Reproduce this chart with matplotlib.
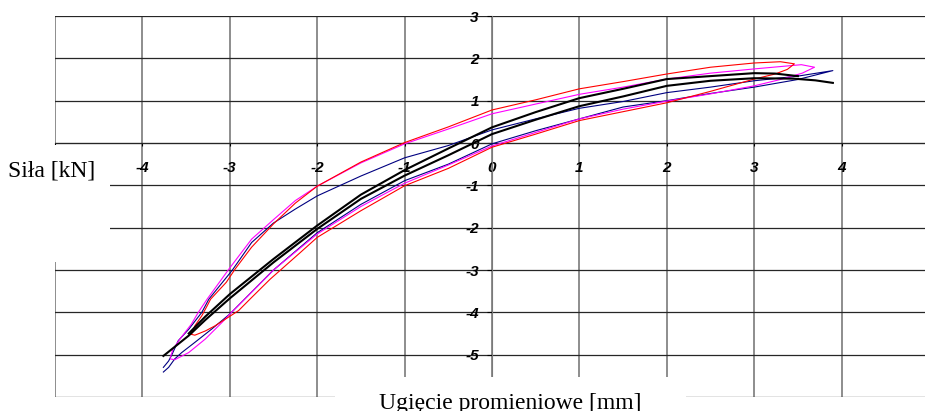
import matplotlib
matplotlib.use('Agg')
import matplotlib.pyplot as plt
from matplotlib.patches import Rectangle

# pętle histerezy: obciążanie (load) i odciążanie (unload), ugięcie [mm] / siła [kN]
red_load_x = [-3.44, -3.40, -3.28, -3.17, -3.02, -2.90, -2.77, -2.54, -2.20, -2.00, -1.50, -1.00,
              -0.50, 0.00, 0.50, 1.00, 1.50, 2.00, 2.50, 3.00, 3.24, 3.38, 3.46]
red_load_y = [-4.52, -4.54, -4.44, -4.32, -4.12, -3.96, -3.69, -3.22, -2.60, -2.23, -1.60, -1.01,
              -0.60, -0.10, 0.21, 0.53, 0.74, 0.95, 1.22, 1.51, 1.63, 1.74, 1.87]
red_unload_x = [3.46, 3.30, 3.00, 2.50, 2.00, 1.50, 1.00, 0.50, 0.00, -0.50, -1.00, -1.50,
                -2.00, -2.25, -2.50, -2.75, -2.94, -3.04, -3.22, -3.26, -3.32, -3.40, -3.44]
red_unload_y = [1.87, 1.92, 1.89, 1.79, 1.63, 1.45, 1.28, 1.02, 0.78, 0.38, 0.01, -0.45,
                -1.02, -1.42, -1.91, -2.46, -2.98, -3.29, -3.69, -3.85, -4.08, -4.32, -4.52]

magenta_load_x = [-3.68, -3.63, -3.47, -3.28, -3.09, -2.98, -2.50, -2.00, -1.50, -1.00, -0.50,
                  0.00, 0.50, 1.00, 1.50, 2.00, 2.50, 3.00, 3.30, 3.55, 3.69]
magenta_load_y = [-5.10, -5.12, -4.95, -4.63, -4.24, -4.00, -3.00, -2.15, -1.50, -0.95, -0.52,
                  -0.07, 0.25, 0.57, 0.80, 0.99, 1.16, 1.35, 1.50, 1.65, 1.79]
magenta_unload_x = [3.69, 3.54, 3.00, 2.50, 2.00, 1.50, 1.00, 0.50, 0.00, -0.50, -1.00, -1.50,
                    -2.00, -2.25, -2.50, -2.75, -3.00, -3.26, -3.36, -3.44, -3.57, -3.65, -3.68]
magenta_unload_y = [1.79, 1.85, 1.75, 1.65, 1.51, 1.32, 1.15, 0.92, 0.69, 0.33, -0.02, -0.47,
                    -1.02, -1.36, -1.81, -2.27, -2.95, -3.69, -4.00, -4.28, -4.63, -4.87, -5.06]

blue_load_x = [-3.76, -3.70, -3.63, -3.55, -3.40, -3.21, -3.00, -2.50, -2.00, -1.50, -1.00,
               -0.50, 0.00, 0.50, 1.00, 1.50, 2.00, 2.50, 3.00, 3.50, 3.90]
blue_load_y = [-5.41, -5.30, -5.10, -4.95, -4.71, -4.40, -4.04, -3.00, -2.12, -1.45, -0.89,
               -0.50, -0.02, 0.29, 0.57, 0.85, 1.00, 1.17, 1.32, 1.50, 1.71]
blue_unload_x = [3.90, 3.50, 3.00, 2.50, 2.00, 1.50, 1.00, 0.50, 0.00, -0.50, -1.00, -1.50,
                 -2.00, -2.25, -2.50, -2.75, -2.97, -3.24, -3.32, -3.47, -3.59, -3.66, -3.70, -3.76]
blue_unload_y = [1.71, 1.58, 1.47, 1.32, 1.19, 0.98, 0.82, 0.57, 0.31, -0.06, -0.35, -0.78,
                 -1.25, -1.56, -1.89, -2.35, -3.00, -3.69, -4.00, -4.40, -4.67, -4.99, -5.15, -5.30]

black_load_x = [-3.76, -3.47, -3.28, -3.00, -2.50, -2.00, -1.50, -1.00, -0.50, 0.00, 0.50,
                1.00, 1.50, 2.00, 2.50, 3.00, 3.45, 3.70, 3.90]
black_load_y = [-5.03, -4.55, -4.18, -3.67, -2.82, -2.03, -1.32, -0.77, -0.29, 0.21, 0.55,
                0.87, 1.10, 1.35, 1.47, 1.53, 1.52, 1.48, 1.42]
black_unload_x = [3.50, 3.24, 3.00, 2.50, 2.00, 1.50, 1.00, 0.50, 0.00, -0.50, -1.00, -1.50,
                  -2.00, -2.50, -3.00, -3.28, -3.47]
black_unload_y = [1.58, 1.64, 1.65, 1.58, 1.51, 1.28, 1.06, 0.73, 0.37, -0.13, -0.64, -1.22,
                  -1.95, -2.74, -3.57, -4.10, -4.50]

x_ticks = list(range(-5, 6))
y_ticks = list(range(-6, 4))
# -5 i -6 leżą pod opisami osi, więc bez etykiet
x_labels = ['' if v == -5 else str(v) for v in x_ticks]
y_labels = ['' if v == -6 else str(v) for v in y_ticks]

W, H = 925, 411
fig = plt.figure(figsize=(W / 100, H / 100), dpi=100)
# osie wychodzą lekko poza prawą krawędź (jak w oryginale)
ax = fig.add_axes([55 / W, 1 - 397 / H, 874 / W, 381 / H])
ax.set_xlim(-5, 5)
ax.set_ylim(-6, 3)

for x in x_ticks:
    ax.axvline(x, color='#7a7a7a', lw=1.2, zorder=1)
for y in y_ticks:
    ax.axhline(y, color='#262626', lw=0.9, zorder=1)

ax.plot(blue_load_x + blue_unload_x, blue_load_y + blue_unload_y, color='#000080', lw=0.8, zorder=3)
ax.plot(magenta_load_x + magenta_unload_x, magenta_load_y + magenta_unload_y, color='#ff00ff', lw=0.8, zorder=3)
ax.plot(red_load_x + red_unload_x, red_load_y + red_unload_y, color='#ff0000', lw=0.8, zorder=3)
ax.plot(black_load_x, black_load_y, color='black', lw=1.5, zorder=4)
ax.plot(black_unload_x, black_unload_y, color='black', lw=1.5, zorder=4)

for s in ['top', 'right']:
    ax.spines[s].set_visible(False)
ax.spines['left'].set_position(('data', 0))
ax.spines['bottom'].set_position(('data', 0))
ax.spines['left'].set_color('#7a7a7a')
ax.spines['bottom'].set_color('#262626')
ax.set_xticks(x_ticks)
ax.set_yticks(y_ticks)
tick_font = dict(family='Liberation Sans', weight='bold', style='italic', size=11)
ax.set_xticklabels(x_labels, fontdict=tick_font)
ax.set_yticklabels(y_labels, fontdict=tick_font)
ax.tick_params(axis='x', direction='out', length=2.5, pad=10.5, width=0.8)
ax.tick_params(axis='y', direction='out', length=3.5, pad=6, width=0.8)

# białe pola pod opisami osi (zasłaniają siatkę)
fig.add_artist(Rectangle((0, 1 - 262 / H), 110 / W, 117 / H, transform=fig.transFigure,
                         facecolor='white', edgecolor='none', zorder=5))
fig.add_artist(Rectangle((335 / W, 0), 351 / W, 34 / H, transform=fig.transFigure,
                         facecolor='white', edgecolor='none', zorder=5))
fig.text(8 / W, 1 - 171 / H, 'Siła [kN]', family='Liberation Serif', size=17,
         ha='left', va='center', zorder=6)
fig.text(510 / W, 1 - 403 / H, 'Ugięcie promieniowe [mm]', family='Liberation Serif', size=17,
         ha='center', va='center', zorder=6)

fig.savefig('out.png', dpi=100)
